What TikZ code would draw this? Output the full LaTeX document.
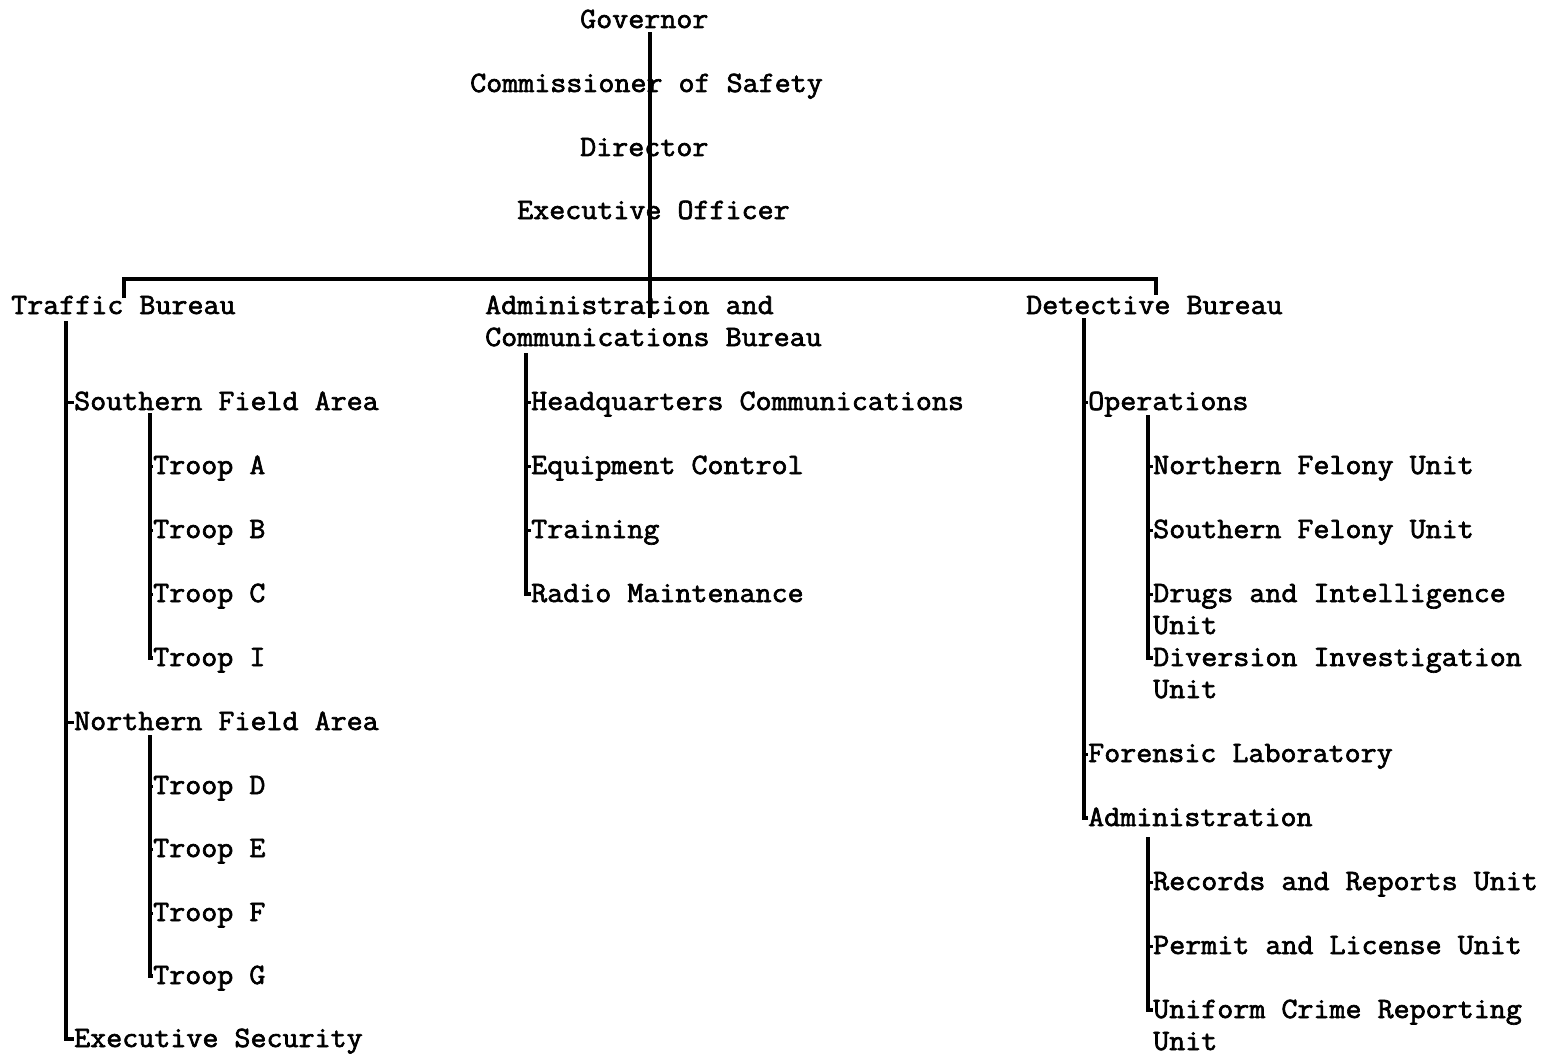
\documentclass[tikz,border=0pt]{standalone}
\usepackage{fontspec}
\newfontfamily\tw[FakeBold=2.2,FakeStretch=1.055]{Latin Modern Mono}
\newcommand{\twolines}[2]{\vtop{\hbox{#1}\hbox{#2}}}
\begin{document}
\begin{tikzpicture}[x=1pt,y=-1pt,
  lbl/.style={anchor=base west,inner sep=0pt,text height=16pt,text depth=0pt,
    font=\tw\fontsize{29.5}{32}\selectfont},
  ln/.style={line width=3.4pt,line cap=butt},
  tick/.style={line width=3pt}]
\useasboundingbox (0,0) rectangle (1559,1054);
% top chain
\node[lbl] (gov) at (580,28) {Governor};
\node[lbl] (com) at (470,92) {Commissioner of Safety};
\node[lbl] (dir) at (580,156) {Director};
\node[lbl] (exo) at (517,219) {Executive Officer};
% bureaus
\node[lbl] (tra) at (11,314) {Traffic Bureau};
\node[lbl] (adm) at (485,314) {\twolines{Administration and}{Communications Bureau}};
\node[lbl] (det) at (1026,314) {Detective Bureau};
% traffic
\node[lbl] (sfa) at (74,410) {Southern Field Area};
\node[lbl] (ta) at (153,474) {Troop A};
\node[lbl] (tb) at (153,538) {Troop B};
\node[lbl] (tc) at (153,602) {Troop C};
\node[lbl] (ti) at (153,666) {Troop I};
\node[lbl] (nfa) at (74,730) {Northern Field Area};
\node[lbl] (td) at (153,794) {Troop D};
\node[lbl] (te) at (153,857) {Troop E};
\node[lbl] (tf) at (153,921) {Troop F};
\node[lbl] (tg) at (153,984) {Troop G};
\node[lbl] (es) at (74,1047) {Executive Security};
% administration
\node[lbl] (hq) at (531,410) {Headquarters Communications};
\node[lbl] (eq) at (531,474) {Equipment Control};
\node[lbl] (trn) at (531,538) {Training};
\node[lbl] (rm) at (531,602) {Radio Maintenance};
% detective
\node[lbl] (ops) at (1088,410) {Operations};
\node[lbl] (nfu) at (1153,474) {Northern Felony Unit};
\node[lbl] (sfu) at (1153,538) {Southern Felony Unit};
\node[lbl] (diu) at (1153,602) {\twolines{Drugs and Intelligence}{Unit}};
\node[lbl] (dvu) at (1153,666) {\twolines{Diversion Investigation}{Unit}};
\node[lbl] (fl) at (1088,762) {Forensic Laboratory};
\node[lbl] (ad2) at (1088,826) {Administration};
\node[lbl] (rr) at (1153,890) {Records and Reports Unit};
\node[lbl] (pl) at (1153,954) {Permit and License Unit};
\node[lbl] (uc) at (1153,1018) {\twolines{Uniform Crime Reporting}{Unit}};
% coordinates of trunks
\coordinate (hub) at (650,279);
\coordinate (barL) at (124,279);
\coordinate (barR) at (1156,279);
\coordinate (tv) at (66,321);
\coordinate (sv) at (150,413);
\coordinate (nv) at (150,735);
\coordinate (av) at (526,353);
\coordinate (dv) at (1084,318);
\coordinate (ov) at (1148,415);
\coordinate (rv) at (1148,837);
% top chain line
\draw[ln] ([yshift=-4pt]gov.south -| hub) -- (hub) -- ([yshift=-4pt]hub |- adm.base);
\draw[ln] ([yshift=16pt]barL |- tra.base) -- (barL) -- (barR) -- ([yshift=19pt]barR |- det.base);
% traffic
\draw[ln] (tv) |- (es.west);
\foreach \n in {sfa,nfa} \draw[tick] (tv |- \n.west) -- (\n.west);
\draw[ln] (sv) |- (ti.west);
\foreach \n in {ta,tb,tc} \draw[tick] (sv |- \n.west) -- (\n.west);
\draw[ln] (nv) |- (tg.west);
\foreach \n in {td,te,tf} \draw[tick] (nv |- \n.west) -- (\n.west);
% administration
\draw[ln] (av) |- (rm.west);
\foreach \n in {hq,eq,trn} \draw[tick] (av |- \n.west) -- (\n.west);
% detective
\draw[ln] (dv) |- (ad2.west);
\foreach \n in {ops,fl} \draw[tick] (dv |- \n.west) -- (\n.west);
\draw[ln] (ov) |- (dvu.west);
\foreach \n in {nfu,sfu,diu} \draw[tick] (ov |- \n.west) -- (\n.west);
\draw[ln] (rv) |- (uc.west);
\foreach \n in {rr,pl} \draw[tick] (rv |- \n.west) -- (\n.west);
\end{tikzpicture}
\end{document}
